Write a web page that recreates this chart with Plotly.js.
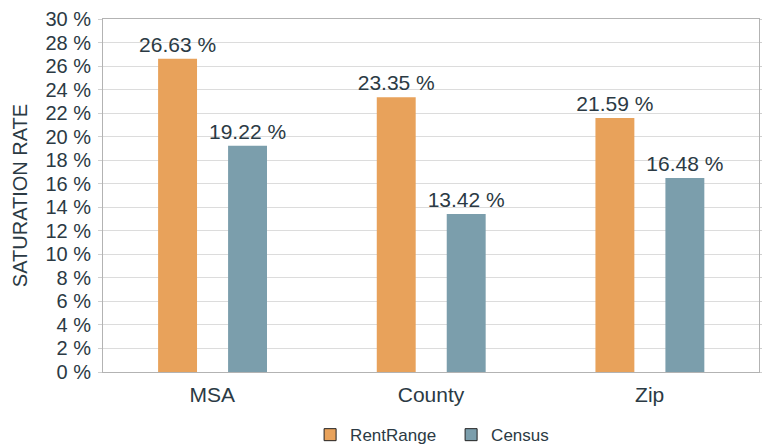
<!DOCTYPE html>
<html>
<head>
<meta charset="utf-8">
<script src="https://cdn.plot.ly/plotly-3.0.1.min.js"></script>
<style>html,body{margin:0;padding:0;background:#fff;}#chart{width:762px;height:444px;}</style>
</head>
<body>
<div id="chart"></div>
<script>
const categories = ["MSA", "County", "Zip"];
const seriesNames = ["RentRange", "Census"];
const rentRange = [26.63, 23.35, 21.59];
const census = [19.22, 13.42, 16.48];
const yTickVals = [0,2,4,6,8,10,12,14,16,18,20,22,24,26,28,30];
const yTickText = yTickVals.map(v => v + " %");

const textColor = "#2b3a44";
const fam = "Liberation Sans, Arial, sans-serif";
const colors = ["#E8A25B", "#7B9EAC"];

const traces = [
  {type: "bar", name: seriesNames[0], x: categories, y: rentRange, showlegend: false,
   marker: {color: colors[0], line: {width: 0}},
   width: 0.178, offset: -0.248, constraintext: "none",
   texttemplate: "%{y:.2f} %", textposition: "outside", cliponaxis: false,
   textfont: {family: fam, size: 21, color: textColor}},
  {type: "bar", name: seriesNames[1], x: categories, y: census, showlegend: false,
   marker: {color: colors[1], line: {width: 0}},
   width: 0.178, offset: 0.072, constraintext: "none",
   texttemplate: "%{y:.2f} %", textposition: "outside", cliponaxis: false,
   textfont: {family: fam, size: 21, color: textColor}},
  {type: "scatter", mode: "markers", name: seriesNames[0], x: [null], y: [null],
   marker: {symbol: "square", size: 12, color: colors[0], line: {color: "#222", width: 1}}},
  {type: "scatter", mode: "markers", name: seriesNames[1], x: [null], y: [null],
   marker: {symbol: "square", size: 12, color: colors[1], line: {color: "#222", width: 1}}}
];

const layout = {
  width: 762, height: 444,
  margin: {l: 103, r: 3, t: 19, b: 72},
  paper_bgcolor: "#fff", plot_bgcolor: "#fff",
  font: {family: fam, color: textColor},
  showlegend: true,
  legend: {orientation: "h", x: 0.592, xanchor: "center", xref: "container",
           y: 0.02, yanchor: "middle", yref: "container",
           entrywidth: 96, entrywidthmode: "pixels",
           font: {family: fam, size: 17, color: textColor}},
  xaxis: {type: "category", tickfont: {size: 21, color: textColor, family: fam},
          showline: true, linecolor: "#b3b3b3", linewidth: 1, mirror: true,
          showgrid: false, ticks: "", range: [-0.5, 2.5], fixedrange: true,
          ticklabelstandoff: 4},
  yaxis: {range: [0, 30], tickvals: yTickVals, ticktext: yTickText,
          tickfont: {size: 20, color: textColor, family: fam},
          showgrid: true, gridcolor: "#dcdcdc", gridwidth: 1,
          showline: true, linecolor: "#b3b3b3", linewidth: 1, mirror: "ticks",
          ticks: "outside", ticklen: 4, tickcolor: "#cfcfcf",
          ticklabelstandoff: 3, zeroline: false,
          title: {text: "SATURATION RATE", font: {size: 20, color: textColor, family: fam}, standoff: 12}}
};

Plotly.newPlot("chart", traces, layout, {displayModeBar: false, staticPlot: true});
</script>
</body>
</html>
